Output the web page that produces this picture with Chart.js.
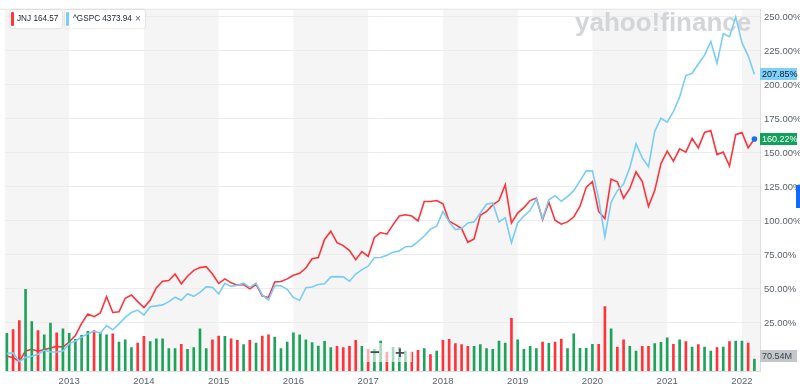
<!DOCTYPE html>
<html><head><meta charset="utf-8">
<script src="https://cdn.jsdelivr.net/npm/chart.js@4.4.0/dist/chart.umd.min.js"></script>
<style>
html,body{margin:0;padding:0;background:#fff;}
#wrap{position:relative;width:800px;height:390px;overflow:hidden;font-family:'Liberation Sans',Arial,sans-serif;}
#c{position:absolute;left:0;top:0;}
.chip{position:absolute;top:10px;height:18px;background:#fff;box-shadow:0 0 2px rgba(0,0,0,0.22);border-radius:2px;font-size:8.2px;color:#232a31;line-height:18px;white-space:nowrap;box-sizing:border-box;}
.chip .bar{position:absolute;left:1px;top:2px;width:2.5px;height:14px;border-radius:1px;}
.zoomctl{position:absolute;left:363px;top:343px;width:49px;height:19px;background:rgba(255,255,255,0.6);color:#464e56;font-weight:bold;font-size:17px;line-height:19px;}
.zoomctl span{position:absolute;top:0;}
.side{position:absolute;left:796px;top:185px;width:4px;height:23px;background:#0f69ff;}
</style>
</head><body>
<div id="wrap">
<canvas id="c" width="800" height="390"></canvas>
<div class="chip" style="left:10px;width:52px;"><div class="bar" style="background:#ff333a"></div><span style="position:absolute;left:7px;">JNJ 164.57</span></div>
<div class="chip" style="left:65px;width:80px;"><div class="bar" style="background:#78cdf8"></div><span style="position:absolute;left:8px;">^GSPC 4373.94</span><span style="position:absolute;left:70px;font-size:10px;color:#5b636a;">×</span></div>
<div class="zoomctl"><span style="left:7px;">−</span><span style="left:32px;">+</span></div>
<div class="side"></div>
</div>
<script>
// Monthly data, starting March 2012, ending March 2022
const firstYear = 2012, firstMonth = 3;
const yearLabels = ['2013','2014','2015','2016','2017','2018','2019','2020','2021','2022'];
const percentTicks = [0,25,50,75,100,125,150,175,200,225,250];

// JNJ percent change (%)
const jnj = [0.6,-0.4,-3.3,4.4,5.7,4.2,5.4,6.6,7.8,7.3,
11.0,15.8,24.7,31.6,29.6,32.3,44.3,32.7,33.2,43.2,
45.6,40.7,36.4,41.7,50.9,55.7,56.2,61.0,53.8,59.4,
63.7,65.7,66.4,61.0,54.1,57.4,54.5,52.8,53.3,50.1,
53.3,44.8,43.8,55.2,55.5,57.4,60.1,61.5,65.4,72.2,
73.1,86.4,92.5,84.0,81.9,78.2,71.5,77.5,73.9,87.9,
91.5,90.3,97.3,103.6,104.6,103.6,100.0,114.3,114.3,115.0,
112.6,99.8,97.3,94.4,84.3,86.7,104.1,107.0,111.8,115.0,
126.6,98.5,105.8,109.8,115.0,116.9,100.9,113.8,100.5,97.6,
99.3,102.9,110.7,124.7,129.0,107.0,101.7,130.7,128.8,116.7,
123.9,136.1,129.0,110.7,122.3,142.1,151.3,144.0,153.0,150.6,
160.7,153.7,165.1,166.5,148.8,150.6,140.4,163.4,165.1,153.7,
160.22];

// ^GSPC percent change (%)
const gspc = [2.5,3.0,-3.3,-0.4,0.6,2.0,4.9,3.7,3.7,4.4,
9.8,11.7,14.6,17.1,18.9,17.5,23.1,20.0,24.3,29.1,
32.7,34.5,30.8,36.9,37.6,38.3,40.7,43.9,41.7,46.5,
44.6,47.5,51.5,51.2,46.3,54.1,51.9,52.7,54.3,51.2,
54.3,45.6,41.9,52.6,52.3,49.7,43.6,41.7,50.9,51.4,
53.3,53.8,58.9,59.1,58.9,55.7,61.0,64.2,66.8,72.9,
73.1,74.8,77.0,78.0,81.1,81.3,84.8,88.9,94.0,96.2,
107.0,99.3,93.7,94.4,98.5,99.3,105.8,112.3,113.3,99.3,
102.4,84.0,98.5,103.6,107.8,116.2,101.7,115.5,118.6,114.5,
117.9,122.3,129.5,136.8,136.8,116.2,88.4,113.8,122.3,127.1,
139.2,156.8,146.4,139.9,165.8,175.5,172.6,180.3,191.2,206.9,
208.6,215.4,221.9,231.9,215.9,237.7,235.5,250.0,231.1,221.4,
207.85];

// JNJ monthly volume (millions)
const volume = [225,247,300,486,294,241,216,286,228,251,
225,188,212,237,241,228,216,222,172,186,
139,166,206,175,192,192,133,133,159,129,
139,251,133,186,208,206,192,182,157,182,
166,208,216,202,133,172,228,216,186,169,
149,176,139,147,139,147,182,147,129,129,
178,113,141,141,118,113,123,133,98,119,
182,188,163,157,147,147,157,133,129,178,
166,313,186,129,147,133,172,165,172,190,
133,222,135,135,159,159,384,251,143,186,
147,118,147,147,163,171,198,159,186,175,
143,157,143,119,139,143,175,178,178,166,
70.54];

// volume bar direction: G = up month, R = down month
const volumeDir = 'GRRGGRGGRG'+'GGGGRGGRGG'+'GRRGGGGGRG'+'GGGRRGRRGR'+'GRRGGGGGGG'+'GGGRRRRGRG'+'GRGGGRRGRG'+'RRRRRGGGGG'+'GRGGGGRGRR'+'GGGGGRRGRR'+'GGRRGGGRGR'+'GRGGRGRGGR'+'G';

const yearTickIndex = yearLabels.map(y => (Number(y) - firstYear) * 12 - (firstMonth - 1));
const RED = '#ff333a', BLUE = '#78cdf8', GREEN = '#1fa35c';
const FONT = "'Liberation Sans', Arial, sans-serif";
const last = jnj.length - 1;

const decor = {
  id: 'decor',
  beforeDraw(chart) {
    const {ctx, chartArea: a, scales: {x}} = chart;
    const edges = [a.left, ...yearTickIndex.map(v => x.getPixelForValue(v)), a.right];
    ctx.save();
    ctx.fillStyle = '#f5f5f5';
    for (let k = 0; k < edges.length - 1; k += 2) ctx.fillRect(edges[k], a.top, edges[k+1] - edges[k], a.bottom - a.top);
    ctx.strokeStyle = '#e4e4e4'; ctx.lineWidth = 1;
    ctx.beginPath(); ctx.moveTo(0, a.top - 0.5); ctx.lineTo(a.right, a.top - 0.5); ctx.stroke();
    ctx.restore();
  },
  beforeDatasetsDraw(chart) {
    const {ctx} = chart;
    ctx.save();
    ctx.font = 'bold 26px ' + FONT;
    ctx.fillStyle = '#d3d5d9';
    ctx.textBaseline = 'alphabetic';
    ctx.fillText('yahoo!finance', 575, 31);
    ctx.restore();
  },
  afterDraw(chart) {
    const {ctx, chartArea: a, scales: {y, yv}} = chart;
    function badge(text, yc, bg, fg) {
      ctx.fillStyle = bg; ctx.fillRect(a.right, Math.round(yc) - 6, 37, 12);
      ctx.fillStyle = fg; ctx.font = '9px ' + FONT; ctx.textBaseline = 'middle'; ctx.textAlign = 'left';
      ctx.fillText(text, a.right + 2, Math.round(yc) + 0.5);
    }
    ctx.save();
    badge(gspc[last].toFixed(2) + '%', y.getPixelForValue(gspc[last]), '#7fd0f8', '#0b1b2b');
    badge(jnj[last].toFixed(2) + '%', y.getPixelForValue(jnj[last]), '#12a05a', '#ffffff');
    badge(volume[last].toFixed(2) + 'M', yv.getPixelForValue(volume[last]) - 3, '#c3c7cc', '#3b4148');
    ctx.restore();
  }
};

new Chart(document.getElementById('c'), {
  type: 'bar',
  data: {
    datasets: [
      {
        type: 'line', label: '^GSPC', yAxisID: 'y', order: 1,
        data: gspc.map((v, i) => ({x: i, y: v})),
        borderColor: BLUE, borderWidth: 1.6, pointRadius: 0, tension: 0
      },
      {
        type: 'bar', label: 'Volume', yAxisID: 'yv', order: 2,
        data: volume.map((v, i) => ({x: i, y: v})),
        backgroundColor: volumeDir.split('').map(d => d === 'G' ? GREEN : RED),
        barThickness: 2, borderWidth: 0, grouped: false
      },
      {
        type: 'line', label: 'JNJ', yAxisID: 'y', order: 3,
        data: jnj.map((v, i) => ({x: i, y: v})),
        borderColor: RED, borderWidth: 1.6, tension: 0,
        pointRadius: ctx => ctx.dataIndex === last ? 2.8 : 0,
        pointBackgroundColor: '#1a6ef5', pointBorderWidth: 0
      }
    ]
  },
  options: {
    responsive: false, animation: false, devicePixelRatio: 1,
    layout: {padding: {top: 5, left: 5, right: 0, bottom: 0}},
    plugins: {legend: {display: false}, tooltip: {enabled: false}},
    scales: {
      x: {
        type: 'linear', min: -0.3, max: 120.9, offset: false,
        grid: {display: false, drawTicks: false},
        border: {display: true, color: '#dedede'},
        ticks: {
          autoSkip: false, maxRotation: 0, padding: 5, color: '#5b636a',
          font: {family: FONT, size: 9.5},
          callback: v => yearLabels[yearTickIndex.indexOf(v)]
        },
        afterBuildTicks: s => { s.ticks = yearTickIndex.map(v => ({value: v})); },
        afterFit: s => { s.height = 19; }
      },
      y: {
        type: 'linear', position: 'right', min: -10.3, max: 255.3,
        grid: {color: '#ececec', drawTicks: false},
        border: {display: true, color: '#dedede'},
        ticks: {
          padding: 4, color: '#5b636a', font: {family: FONT, size: 9.5},
          callback: v => v.toFixed(2) + '%'
        },
        afterBuildTicks: s => { s.ticks = percentTicks.map(v => ({value: v})); },
        afterFit: s => { s.width = 40; }
      },
      yv: {type: 'linear', display: false, min: 0, max: 2152}
    }
  },
  plugins: [decor]
});
</script>
</body></html>
